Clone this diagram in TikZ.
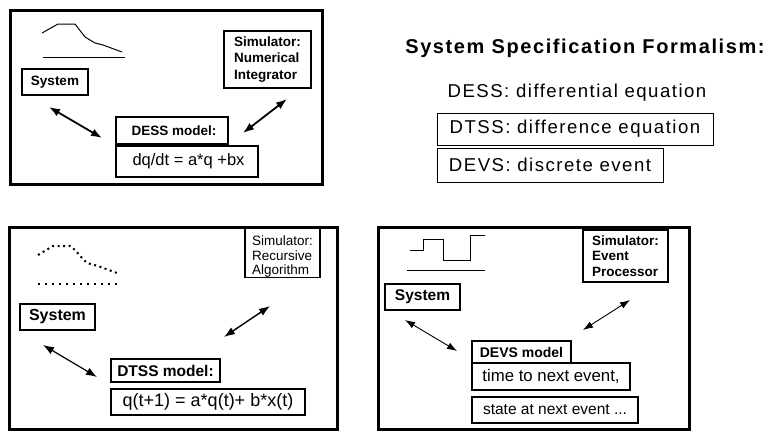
\documentclass[tikz,border=0pt]{standalone}
\usepackage{fontspec}
\setmainfont{Liberation Sans}
\newfontfamily\spacedfont[LetterSpace=8]{Liberation Sans}
\usetikzlibrary{arrows.meta}

\newcommand{\fs}[2]{\fontsize{#1}{#2}\selectfont}

\begin{document}
\begin{tikzpicture}[x=1pt,y=-1pt,
  panel/.style={draw=black,line width=3pt},
  box/.style={draw=black,rectangle,inner sep=0pt,line width=#1},
  box/.default=2pt,
  link/.style={{Latex[length=11pt,width=8pt]}-{Latex[length=11pt,width=8pt]},line width=#1},
  link/.default=1.8pt,
  thinlink/.style={{Latex[length=10pt,width=7pt]}-{Latex[length=10pt,width=7pt]},line width=0.9pt},
  sketch/.style={draw=black,line width=1pt}]
\useasboundingbox (0,0) rectangle (768,431);

% ---------- DESS panel ----------
\draw[panel] (10,10) rectangle (322,184);
\draw[sketch] (42,33) -- (58,24) -- (75,24) -- (85,37) -- (95,43) -- (103,45) -- (122,52);
\draw[sketch] (43,57) -- (125,57);
\node[box,minimum width=66pt,minimum height=26pt,font=\fs{13.5}{16}\bfseries] (sys1) at (55,82)
  {System};
\node[box,minimum width=87pt,minimum height=57pt,align=left,font=\fs{13.5}{16.8}\bfseries] (sim1) at (267.5,59.5)
  {Simulator:\\Numerical\\Integrator};
\node[box,minimum width=112pt,minimum height=27pt,font=\fs{13.5}{16}\bfseries] (mod1) at (172,130.5)
  {\hspace{4pt}DESS model:};
\node[box,minimum width=142pt,minimum height=31pt,font=\fs{16.5}{19}] (eq1) at (187,161.5)
  {\hspace{3pt}dq/dt = a*q +bx};
\coordinate (a1s) at (49,107);
\coordinate (a1e) at (102,138);
\coordinate (b1s) at (287,99);
\coordinate (b1e) at (243,133);
\draw[link] (a1s) -- (a1e);
\draw[link] (b1s) -- (b1e);

% ---------- formalism list ----------
\node[font=\spacedfont\fs{20}{24}\bfseries] (title) at (585,48) {System Specification Formalism:};
\node[font=\spacedfont\fs{18.6}{22}] (dess) at (577,93) {DESS: differential equation};
\node[box=0.8pt,minimum width=276pt,minimum height=32pt,font=\spacedfont\fs{18.6}{22}] (dtss) at (575,129)
  {DTSS: difference equation};
\node[box=0.8pt,minimum width=226pt,minimum height=34pt,font=\spacedfont\fs{18.6}{22}] (devs) at (550,165)
  {DEVS: discrete event};

% ---------- DTSS panel ----------
\draw[panel] (9,227) rectangle (337,429);
\draw[line width=2pt,dash pattern=on 2pt off 3.5pt]
  (38,255) -- (53,246) -- (70,246) -- (75,250) -- (82,258) -- (87,263) -- (98,266) -- (117,273);
\draw[line width=2pt,dash pattern=on 2.4pt off 4.6pt] (38,284) -- (120,284);
\node[box,minimum width=75pt,minimum height=26pt,font=\fs{16}{19}\bfseries] (sys2) at (57.5,317)
  {System};
\node[box=1.6pt,minimum width=75pt,minimum height=46pt,align=left,font=\fs{13.5}{14.5}] (sim2) at (282.5,253)
  {\rule{0pt}{17pt}Simulator:\\Recursive\\Algorithm};
\node[box,minimum width=109pt,minimum height=23pt,font=\fs{15.5}{18}\bfseries] (mod2) at (165.5,370.5)
  {DTSS model:};
\node[box,minimum width=194pt,minimum height=26pt,font=\fs{18}{21}] (eq2) at (208,402)
  {q(t+1) = a*q(t)+ b*x(t)};
\coordinate (a2s) at (43,345);
\coordinate (a2e) at (97,377);
\coordinate (b2s) at (270,306);
\coordinate (b2e) at (224,337);
\draw[link=1.2pt] (a2s) -- (a2e);
\draw[link=1.4pt] (b2s) -- (b2e);

% ---------- DEVS panel ----------
\draw[panel] (378,227) rectangle (689,429);
\draw[sketch] (410,250) -- (423,250) -- (423,239) -- (443,239) -- (443,260) -- (470,260) -- (470,235) -- (485,235);
\draw[sketch] (407,270) -- (485,270);
\node[box=1.6pt,minimum width=75pt,minimum height=26pt,font=\fs{15.5}{18}\bfseries] (sys3) at (422.5,297)
  {System};
\node[box=1.4pt,minimum width=85pt,minimum height=52pt,align=left,font=\fs{13.5}{15.5}\bfseries] (sim3) at (625.5,256)
  {Simulator:\\Event\\Processor};
\node[box=1.4pt,minimum width=99pt,minimum height=22pt,font=\fs{14}{17}\bfseries] (mod3) at (521.5,352)
  {DEVS model};
\node[box=1.2pt,minimum width=158pt,minimum height=27pt,font=\fs{16.8}{20}] (nxt) at (551,376.5)
  {time to next event,};
\node[box=1.2pt,minimum width=166pt,minimum height=26pt,font=\fs{15.5}{18}] (st) at (555,410)
  {state at next event ...};
\coordinate (a3s) at (405,320);
\coordinate (a3e) at (457,351);
\coordinate (b3s) at (630,300);
\coordinate (b3e) at (583,330);
\draw[thinlink] (a3s) -- (a3e);
\draw[thinlink] (b3s) -- (b3e);
\end{tikzpicture}
\end{document}
